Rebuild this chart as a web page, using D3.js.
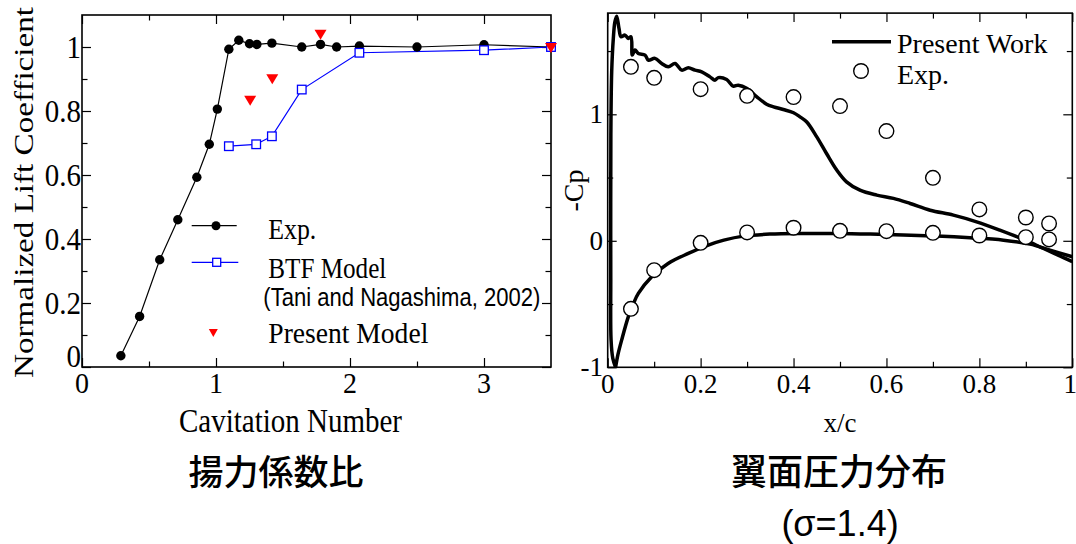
<!DOCTYPE html>
<html>
<head>
<meta charset="utf-8">
<script src="https://cdn.jsdelivr.net/npm/d3@7"></script>
<style>
body { margin: 0; background: #fff; }
</style>
</head>
<body>
<svg width="1076" height="544"></svg>
<script>
// left panel : normalized lift vs cavitation number
var cavExp = [0.29, 0.43, 0.58, 0.715, 0.857, 0.95, 1.01, 1.096, 1.17, 1.25, 1.305, 1.417, 1.64, 1.78, 1.90, 2.07, 2.50, 3.0, 3.5];
var liftExp = [0.035, 0.158, 0.335, 0.46, 0.593, 0.696, 0.806, 0.993, 1.021, 1.010, 1.008, 1.012, 1.0, 1.008, 1.0, 1.003, 1.0, 1.007, 1.0];
var cavBtf = [1.096, 1.30, 1.417, 1.64, 2.07, 3.0, 3.5];
var liftBtf = [0.690, 0.696, 0.721, 0.867, 0.982, 0.99, 1.0];
var cavPresent = [1.255, 1.42, 1.78, 3.5];
var liftPresent = [0.832, 0.899, 1.038, 0.997];
var liftXTicks = [0, 1, 2, 3];
var liftXMinor = [0.5, 1.5, 2.5];
var liftYTicks = [0, 0.2, 0.4, 0.6, 0.8, 1];
var liftYMinor = [0.1, 0.3, 0.5, 0.7, 0.9];

// right panel : -Cp vs x/c  (sigma = 1.4)
var xcExp = [0.05, 0.1, 0.2, 0.3, 0.4, 0.5, 0.6, 0.7, 0.8, 0.9, 0.95];
var cpExpUpper = [1.375, 1.288, 1.199, 1.146, 1.136, 1.065, 0.867, 0.498, 0.248, 0.184, 0.137];
var cpExpLower = [-0.538, -0.232, -0.016, 0.066, 0.103, 0.079, 0.076, 0.063, 0.042, 0.029, 0.011];
var xcUpper = [0.017, 0.011, 0.0072, 0.0066, 0.0065, 0.0068, 0.0086, 0.0121, 0.0155, 0.0194, 0.0243, 0.0286, 0.0372, 0.0443, 0.0502, 0.0530, 0.0588, 0.0659, 0.0803, 0.0874, 0.1018, 0.1162, 0.1304, 0.1449, 0.1593, 0.1735, 0.1879, 0.2023, 0.2202, 0.2309, 0.238, 0.256, 0.270, 0.281, 0.300, 0.321, 0.342, 0.357, 0.378, 0.400, 0.414, 0.428, 0.45, 0.471, 0.493, 0.514, 0.543, 0.579, 0.615, 0.651, 0.694, 0.744, 0.794, 0.844, 0.895, 0.938, 0.973, 1.0];
var cpUpper = [-1.0, -0.93, -0.78, -0.3, 0.3, 0.84, 1.336, 1.60, 1.73, 1.776, 1.679, 1.613, 1.626, 1.600, 1.613, 1.468, 1.508, 1.481, 1.468, 1.428, 1.442, 1.402, 1.375, 1.402, 1.349, 1.368, 1.349, 1.336, 1.296, 1.27, 1.29, 1.275, 1.223, 1.23, 1.204, 1.138, 1.08, 1.059, 1.038, 1.012, 0.98, 0.941, 0.822, 0.69, 0.559, 0.466, 0.40, 0.361, 0.335, 0.295, 0.242, 0.203, 0.150, 0.084, 0.011, -0.061, -0.12, -0.165];
var xcLower = [0.017, 0.022, 0.030, 0.0443, 0.055, 0.066, 0.0947, 0.130, 0.1735, 0.2165, 0.25, 0.292, 0.349, 0.421, 0.493, 0.565, 0.636, 0.708, 0.78, 0.852, 0.909, 0.952, 1.0];
var cpLower = [-1.0, -0.9, -0.785, -0.601, -0.50, -0.416, -0.285, -0.179, -0.10, -0.034, 0.005, 0.037, 0.053, 0.058, 0.058, 0.053, 0.045, 0.037, 0.024, 0.005, -0.026, -0.074, -0.126];
var cpXTicks = [0, 0.2, 0.4, 0.6, 0.8, 1];
var cpXMinor = [0.1, 0.3, 0.5, 0.7, 0.9];
var cpYTicks = [-1, 0, 1];
var cpYMinor = [-0.5, 0.5, 1.5];

var serif = '"Liberation Serif", "Times New Roman", serif';
var sans = '"Liberation Sans", Arial, sans-serif';
var cjk = '"Noto Sans CJK JP", "Noto Sans CJK SC", sans-serif';

var svg = d3.select("svg");

var addText = function(g, x, y, txt, size, o)
{
    o = o || {};
    var tf = "translate(" + x + "," + y + ")";
    if (o.rot) tf += " rotate(" + o.rot + ")";
    if (o.sy) tf += " scale(1," + o.sy + ")";
    var t = g.append("text")
        .attr("transform", tf)
        .attr("text-anchor", o.anchor || "start")
        .attr("font-family", o.family || serif)
        .attr("font-size", size)
        .attr("font-weight", o.weight || "normal")
        .attr("fill", "#000")
        .text(txt);
    if (o.len) t.attr("textLength", o.len).attr("lengthAdjust", "spacingAndGlyphs");
    return t;
}

var drawFrame = function(g, x, y, xMaj, xMin, yMaj, yMin)
{
    var xr = x.range(), yr = y.range();
    var sides = [
        [d3.axisBottom, x, "translate(0," + yr[0] + ")", xMaj, xMin],
        [d3.axisTop, x, "translate(0," + yr[1] + ")", xMaj, xMin],
        [d3.axisLeft, y, "translate(" + xr[0] + ",0)", yMaj, yMin],
        [d3.axisRight, y, "translate(" + xr[1] + ",0)", yMaj, yMin]
    ];
    sides.forEach(function(s)
    {
        [[s[3], 9], [s[4], 5.5]].forEach(function(set)
        {
            g.append("g")
                .attr("transform", s[2])
                .call(s[0](s[1]).tickValues(set[0]).tickSize(-set[1]).tickFormat(""))
                .call(function(a) { a.select(".domain").remove(); })
                .selectAll("line").attr("stroke", "#000").attr("stroke-width", 1.2);
        });
    });
    g.append("rect")
        .attr("x", xr[0]).attr("y", yr[1])
        .attr("width", xr[1] - xr[0]).attr("height", yr[0] - yr[1])
        .attr("fill", "none").attr("stroke", "#000").attr("stroke-width", 1.6);
}

// ---------- left panel ----------
var xL = d3.scaleLinear().domain([0, 3.5]).range([82, 551]);
var yL = d3.scaleLinear().domain([0, 1.1]).range([367, 15]);
var gl = svg.append("g");
var sy = 1.17;

drawFrame(gl, xL, yL, liftXTicks, liftXMinor, liftYTicks, liftYMinor);

liftXTicks.forEach(function(v)
{
    addText(gl, xL(v), 393, String(v), 28, {anchor: "middle", sy: 1.08});
});
liftYTicks.forEach(function(v)
{
    // the zero label sits a little higher so it clears the x-axis zero
    var dy = v === 0 ? 0 : 11;
    addText(gl, 81, yL(v) + dy, (v === 0 || v === 1) ? String(v) : v.toFixed(1), 29, {anchor: "end", sy: 1.12});
});

var lineL = d3.line().x(function(d) { return xL(d[0]); }).y(function(d) { return yL(d[1]); });

gl.append("path").datum(d3.zip(cavExp, liftExp))
    .attr("d", lineL).attr("fill", "none").attr("stroke", "#000").attr("stroke-width", 1.2);
gl.append("path").datum(d3.zip(cavBtf, liftBtf))
    .attr("d", lineL).attr("fill", "none").attr("stroke", "#0000ff").attr("stroke-width", 1.2);

gl.selectAll(".expDot").data(d3.zip(cavExp, liftExp)).enter().append("circle")
    .attr("cx", function(d) { return xL(d[0]); })
    .attr("cy", function(d) { return yL(d[1]); })
    .attr("r", 4.7).attr("fill", "#000");

gl.selectAll(".btf").data(d3.zip(cavBtf, liftBtf)).enter().append("rect")
    .attr("x", function(d) { return xL(d[0]) - 4.3; })
    .attr("y", function(d) { return yL(d[1]) - 4.3; })
    .attr("width", 8.6).attr("height", 8.6)
    .attr("fill", "#fff").attr("stroke", "#0000ff").attr("stroke-width", 1.3);

var tri = function(cx, cy, w, h)
{
    return "M" + (cx - w / 2) + "," + (cy - h / 2) + "L" + (cx + w / 2) + "," + (cy - h / 2) + "L" + cx + "," + (cy + h / 2) + "Z";
}
gl.selectAll(".pm").data(d3.zip(cavPresent, liftPresent)).enter().append("path")
    .attr("d", function(d) { return tri(xL(d[0]), yL(d[1]), 12, 10); })
    .attr("fill", "#ff0000");

// legend
gl.append("line").attr("x1", 191.7).attr("x2", 236.7).attr("y1", 225.7).attr("y2", 225.7)
    .attr("stroke", "#000").attr("stroke-width", 1.2);
gl.append("circle").attr("cx", 216).attr("cy", 225.7).attr("r", 4.5).attr("fill", "#000");
addText(gl, 268.3, 238.5, "Exp.", 25, {sy: sy, len: 48});

gl.append("line").attr("x1", 191.7).attr("x2", 238.3).attr("y1", 262.3).attr("y2", 262.3)
    .attr("stroke", "#0000ff").attr("stroke-width", 1.2);
gl.append("rect").attr("x", 212.7).attr("y", 258.3).attr("width", 8).attr("height", 8)
    .attr("fill", "#fff").attr("stroke", "#0000ff").attr("stroke-width", 1.3);
addText(gl, 268.3, 277.7, "BTF Model", 25, {sy: sy, len: 118});
addText(gl, 263.3, 305.7, "(Tani and Nagashima, 2002)", 22, {sy: sy, family: sans, len: 277});

gl.append("path").attr("d", tri(213.3, 333, 9, 8)).attr("fill", "#ff0000");
addText(gl, 268.3, 343.3, "Present Model", 25, {sy: sy, len: 160});

addText(gl, 290.5, 431.7, "Cavitation Number", 29, {anchor: "middle", sy: sy});
addText(gl, 33, 192.5, "Normalized Lift Coefficient", 27, {anchor: "middle", rot: -90, len: 371});
addText(gl, 276, 485, "揚力係数比", 35, {anchor: "middle", family: cjk, weight: 500});

// ---------- right panel ----------
var xR = d3.scaleLinear().domain([0, 1]).range([607.7, 1072.3]);
var yR = d3.scaleLinear().domain([-1, 1.8]).range([367.3, 13.1]);
var gr = svg.append("g");

svg.append("defs").append("clipPath").attr("id", "clipR").append("rect")
    .attr("x", 607.7).attr("y", 13.1).attr("width", 464.6).attr("height", 354.2);

drawFrame(gr, xR, yR, cpXTicks, cpXMinor, cpYTicks, cpYMinor);

cpXTicks.forEach(function(v)
{
    // keep the last label inside the page edge
    var x = v === 1 ? xR(v) - 2 : xR(v);
    addText(gr, x, 393, String(v), 27, {anchor: "middle"});
});
cpYTicks.forEach(function(v)
{
    addText(gr, 603, yR(v) + 9, String(v), 27, {anchor: "end"});
});

var lineR = d3.line()
    .x(function(d) { return xR(d[0]); })
    .y(function(d) { return yR(d[1]); })
    .curve(d3.curveCatmullRom.alpha(0.5));

[[xcUpper, cpUpper], [xcLower, cpLower]].forEach(function(s)
{
    gr.append("path").datum(d3.zip(s[0], s[1]))
        .attr("d", lineR).attr("fill", "none")
        .attr("stroke", "#000").attr("stroke-width", 3.5)
        .attr("stroke-linejoin", "round")
        .attr("clip-path", "url(#clipR)");
});

[cpExpUpper, cpExpLower].forEach(function(cp)
{
    gr.append("g").selectAll("circle").data(d3.zip(xcExp, cp)).enter().append("circle")
        .attr("cx", function(d) { return xR(d[0]); })
        .attr("cy", function(d) { return yR(d[1]); })
        .attr("r", 7.3).attr("fill", "#fff").attr("stroke", "#000").attr("stroke-width", 1.4);
});

// legend
gr.append("line").attr("x1", 832).attr("x2", 891).attr("y1", 41.7).attr("y2", 41.7)
    .attr("stroke", "#000").attr("stroke-width", 3.5);
addText(gr, 897, 53.3, "Present Work", 28);
gr.append("circle").attr("cx", 861).attr("cy", 71).attr("r", 7.3)
    .attr("fill", "#fff").attr("stroke", "#000").attr("stroke-width", 1.4);
addText(gr, 897, 83.5, "Exp.", 28);

addText(gr, 840, 431.7, "x/c", 27, {anchor: "middle"});
addText(gr, 583, 190.5, "-Cp", 28, {anchor: "middle", rot: -90});
addText(gr, 839, 485, "翼面圧力分布", 36, {anchor: "middle", family: cjk, weight: 500});
addText(gr, 840, 536, "(σ=1.4)", 36, {anchor: "middle", family: sans});
</script>
</body>
</html>
